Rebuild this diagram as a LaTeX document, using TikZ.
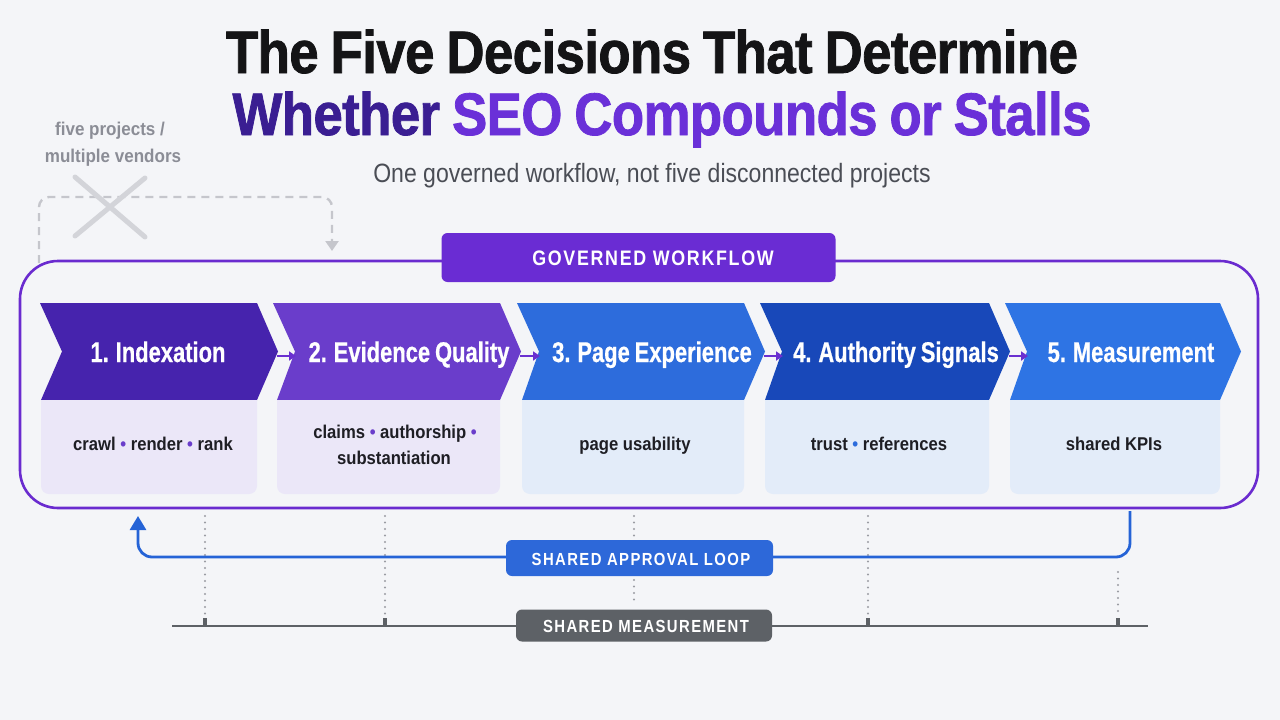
\documentclass[tikz,border=0pt]{standalone}
\usepackage{fontspec}
\setmainfont{Liberation Sans}
\newfontfamily\titlefont[FakeStretch=0.88,FakeBold=1.3,WordSpace=0.85,LetterSpace=-1]{Liberation Sans}
\newfontfamily\subfont[FakeStretch=0.87]{Liberation Sans}
\newfontfamily\chevfont[FakeStretch=0.77,FakeBold=0.6,WordSpace=0.8]{Liberation Sans}
\newfontfamily\bodyfont[FakeStretch=0.9]{Liberation Sans}
\newfontfamily\sidefont[FakeStretch=0.92]{Liberation Sans}
\newfontfamily\capsfont[FakeStretch=0.85,LetterSpace=8]{Liberation Sans}
\usetikzlibrary{arrows.meta}
\definecolor{bg}{HTML}{F4F5F8}
\definecolor{titleblack}{HTML}{141416}
\definecolor{indigo}{HTML}{3A1E92}
\definecolor{purp}{HTML}{6A30D8}
\definecolor{subgrey}{HTML}{4A4D55}
\definecolor{sidegrey}{HTML}{8B8D96}
\definecolor{xgrey}{HTML}{D3D4D9}
\definecolor{dashgrey}{HTML}{C5C6CC}
\definecolor{frame}{HTML}{6A2BCF}
\definecolor{gwfill}{HTML}{6A2CD3}
\definecolor{chA}{HTML}{4623AD}
\definecolor{chB}{HTML}{6A3DCB}
\definecolor{chC}{HTML}{2D6CDC}
\definecolor{chD}{HTML}{1848B9}
\definecolor{chE}{HTML}{2E74E4}
\definecolor{lowP}{HTML}{EBE7F8}
\definecolor{lowB}{HTML}{E3ECF9}
\definecolor{bodytext}{HTML}{1E1E24}
\definecolor{dotP}{HTML}{6A3DCB}
\definecolor{dotB}{HTML}{2D6CDC}
\definecolor{smallarrow}{HTML}{6A30D0}
\definecolor{loopblue}{HTML}{2563D6}
\definecolor{loopfill}{HTML}{2D68D9}
\definecolor{measgrey}{HTML}{5D6166}
\definecolor{dotgrey}{HTML}{9A9CA3}
\newcommand\mychev[6]{%
  % #1 top-left x, #2 top-right x, #3 bottom-left x, #4 colour, #5 name, #6 lower colour
  \fill[#4] (#1,303) -- (#2,303) -- (#2+21,351.5) -- (#2,400) -- (#3,400) -- (#1+22,351.5) -- cycle;
  \coordinate (tip#5) at (#2+20,356);
  \coordinate (notch#5) at (#1+23,356);
  \fill[#6] (#3,400) -- (#2,400) -- (#2,486) {[rounded corners=8] -- (#2,494) -- (#3,494)} -- (#3,486) -- cycle;
}
\tikzset{
  chevtext/.style={anchor=base, text=white, font=\chevfont\bfseries\fontsize{28.5}{32}\selectfont},
  lowtext/.style={anchor=base, text=bodytext, font=\bodyfont\bfseries\fontsize{18.5}{22}\selectfont},
  capslabel/.style={anchor=center, text=white, font=\capsfont\bfseries\fontsize{#1}{#1}\selectfont},
  labelbox/.style={rounded corners=6, inner sep=0pt},
  flowarrow/.style={draw=smallarrow, line width=2.6pt, -{Triangle[length=7pt,width=9pt]}},
  dotline/.style={draw=dotgrey, line width=2.2pt, line cap=round, dash pattern=on 0pt off 6.5pt},
  tick/.style={fill=measgrey, minimum width=4pt, minimum height=9pt, inner sep=0pt, anchor=south}
}
\begin{document}
\begin{tikzpicture}[x=1pt,y=-1pt]
\useasboundingbox (0,0) rectangle (1280,720);
\fill[bg] (0,0) rectangle (1280,720);

% title
\node[anchor=base, text=titleblack, font=\titlefont\bfseries\fontsize{60}{70}\selectfont] (title1) at (652,73) {The Five Decisions That Determine};
\node[anchor=base, font=\titlefont\bfseries\fontsize{60}{70}\selectfont] (title2) at (662,135) {\textcolor{indigo}{Whether} \textcolor{purp}{SEO Compounds or Stalls}};
\node[anchor=base, text=subgrey, font=\subfont\fontsize{26.5}{30}\selectfont] (subtitle) at (652,182) {One governed workflow, not five disconnected projects};

% side note
\node[anchor=base, text=sidegrey, font=\sidefont\bfseries\fontsize{18.5}{22}\selectfont] (side1) at (110,135) {five projects /};
\node[anchor=base, text=sidegrey, font=\sidefont\bfseries\fontsize{18.5}{22}\selectfont] (side2) at (113,162) {multiple vendors};
\coordinate (dstart) at (39,263);
\coordinate (dend) at (332,251);
\draw[dashgrey, line width=2.4pt, dash pattern=on 8pt off 6pt, rounded corners=10, -{Triangle[length=10pt,width=13pt]}]
  (dstart) -- (39,197) -- (332,197) -- (dend);
\draw[xgrey, line width=5pt, line cap=round] (75,177) -- (145,237) (145,178) -- (75,236);

% governed workflow frame
\draw[frame, line width=2.6pt, rounded corners=38] (20,261) rectangle (1258,508);
\node[labelbox, fill=gwfill, minimum width=394pt, minimum height=49pt] (gwbox) at (638.5,257.5) {};
\node[capslabel=21] (gwtext) at (653,258) {GOVERNED WORKFLOW};

% chevrons and lower boxes
\mychev{40}{257}{41}{chA}{1}{lowP}
\mychev{273}{500}{277}{chB}{2}{lowP}
\mychev{517}{744}{522}{chC}{3}{lowB}
\mychev{760}{989}{765}{chD}{4}{lowB}
\mychev{1005}{1220}{1010}{chE}{5}{lowB}

\node[chevtext] (c1) at (158,362) {1. Indexation};
\node[chevtext] (c2) at (409,362) {2. Evidence Quality};
\node[chevtext] (c3) at (652,362) {3. Page Experience};
\node[chevtext] (c4) at (896,362) {4. Authority Signals};
\node[chevtext] (c5) at (1131,362) {5. Measurement};

\draw[flowarrow] (tip1) -- (notch2);
\draw[flowarrow] (tip2) -- (notch3);
\draw[flowarrow] (tip3) -- (notch4);
\draw[flowarrow] (tip4) -- (notch5);

\node[lowtext] (l1) at (153,450) {crawl \textcolor{dotP}{•} render \textcolor{dotP}{•} rank};
\node[lowtext] (l2a) at (395,438) {claims \textcolor{dotP}{•} authorship \textcolor{dotP}{•}};
\node[lowtext] (l2b) at (394,464) {substantiation};
\node[lowtext] (l3) at (635,450) {page usability};
\node[lowtext] (l4) at (879,450) {trust \textcolor{dotB}{•} references};
\node[lowtext] (l5) at (1114,450) {shared KPIs};

% dotted drop lines
\coordinate (d1a) at (205,516); \coordinate (d1b) at (205,616);
\coordinate (d2a) at (385,516); \coordinate (d2b) at (385,616);
\coordinate (d3a) at (634,516); \coordinate (d3b) at (634,538);
\coordinate (d3c) at (634,580); \coordinate (d3d) at (634,606);
\coordinate (d4a) at (868,516); \coordinate (d4b) at (868,616);
\coordinate (d5a) at (1118,572); \coordinate (d5b) at (1118,616);
\draw[dotline] (d1a) -- (d1b);
\draw[dotline] (d2a) -- (d2b);
\draw[dotline] (d3a) -- (d3b);
\draw[dotline] (d3c) -- (d3d);
\draw[dotline] (d4a) -- (d4b);
\draw[dotline] (d5a) -- (d5b);

% shared approval loop
\coordinate (loopstart) at (1130,511);
\coordinate (loopend) at (138,516);
\draw[loopblue, line width=2.8pt, rounded corners=14, -{Triangle[length=14pt,width=16pt]}]
  (loopstart) -- (1130,557) -- (138,557) -- (loopend);
\node[labelbox, fill=loopfill, minimum width=267pt, minimum height=36pt] (apbox) at (639.5,558) {};
\node[capslabel=17.5] (aptext) at (641,559) {SHARED APPROVAL LOOP};

% shared measurement
\coordinate (mleft) at (172,626);
\coordinate (mright) at (1148,626);
\draw[measgrey, line width=2.8pt] (mleft) -- (mright);
\node[tick] (k1) at (205,627) {};
\node[tick] (k2) at (385,627) {};
\node[tick] (k4) at (868,627) {};
\node[tick] (k5) at (1118,627) {};
\node[labelbox, fill=measgrey, minimum width=256pt, minimum height=32pt] (mbox) at (644,625.5) {};
\node[capslabel=17.5] (mtext) at (646,626) {SHARED MEASUREMENT};
\end{tikzpicture}
\end{document}
